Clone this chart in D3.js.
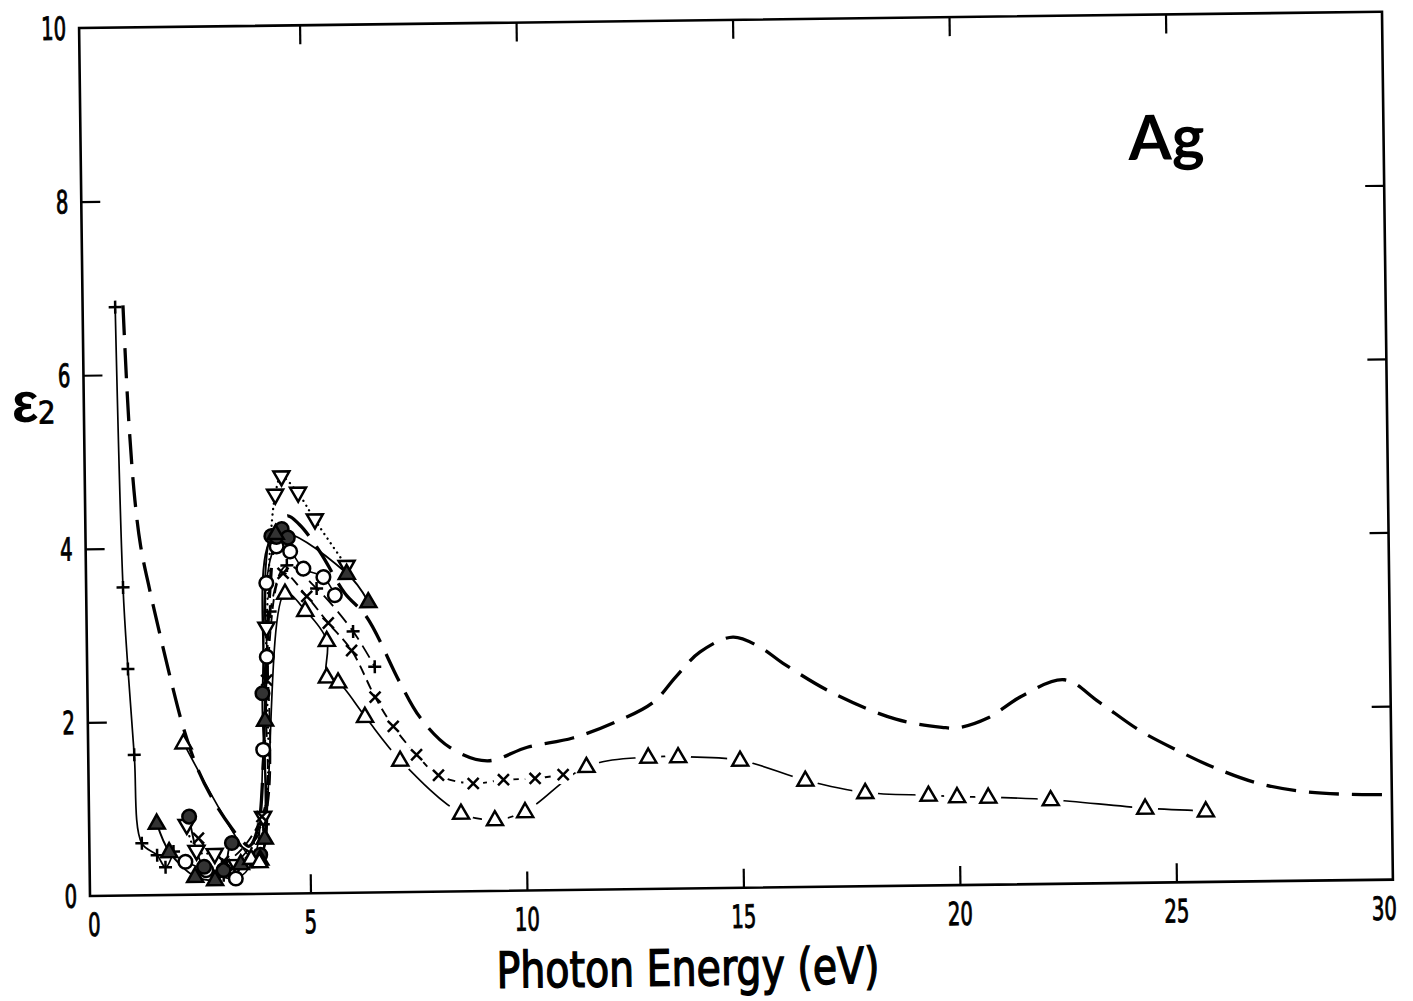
<!DOCTYPE html>
<html>
<head>
<meta charset="utf-8">
<script src="https://cdn.jsdelivr.net/npm/d3@7"></script>
<style>
  html, body { margin: 0; padding: 0; background: #fff; }
  svg { display: block; background: #fff; }
</style>
</head>
<body>
<svg id="chart" width="1413" height="1001"></svg>
<script>
// ---------------- data ----------------
const xTickValues = [0, 5, 10, 15, 20, 25, 30];
const xTickLabels = ["0", "5", "10", "15", "20", "25", "30"];
const yTickValues = [0, 2, 4, 6, 8, 10];
const yTickLabels = ["0", "2", "4", "6", "8", "10"];
const innerXTicks = [5, 10, 15, 20, 25];
const innerYTicks = [2, 4, 6, 8];

// long-dashed reference curve (no markers)
const dashCurve = [
  [0.84,6.8],[0.94,5.48],[1.06,4.55],[1.18,4.02],[1.37,3.53],[1.6,3.0],[1.85,2.45],
  [2.11,1.93],[2.43,1.45],[2.8,1.07],[3.2,0.76],[3.44,0.61],[3.6,0.55],[3.8,0.75],
  [3.95,1.5],[4.05,2.6],[4.15,3.5],[4.3,4.1],[4.57,4.35],[4.85,4.25],[5.32,3.93],
  [5.88,3.45],[6.37,3.18],[7.13,2.41],[7.58,2.01],[8.26,1.66],[9.12,1.50],[10.05,1.65],
  [11.1,1.75],[12.1,1.93],[12.97,2.15],[13.5,2.44],[14.06,2.72],[14.83,2.89],[15.45,2.77],
  [15.98,2.58],[17.12,2.23],[18.57,1.92],[19.63,1.82],[19.98,1.81],[20.69,1.92],
  [21.49,2.17],[22.47,2.35],[23.26,2.09],[24.18,1.76],[25.06,1.52],[25.89,1.32],
  [26.91,1.13],[27.92,1.03],[28.94,0.99],[30,0.98]
];
// "+" markers, low-energy Drude part (solid line)
const plusLow = [[0.66,6.78],[0.76,3.55],[0.85,2.61],[0.97,1.62],[1.12,0.6],[1.47,0.46],[1.66,0.32],[1.85,0.5]];
// "+" markers, interband part (dashed line)
const plusHigh = [[3.0,0.22],[3.93,0.8],[4.15,3.25],[4.55,3.78],[5.23,3.51],[6.06,3.01],[6.55,2.6]];
// open down-triangles (dotted line)
const nablaPts = [[2.16,0.8],[2.38,0.5],[2.8,0.46],[3.3,0.33],[3.93,0.88],[4.06,3.06],[4.3,4.59],[4.45,4.8],[4.83,4.61],[5.21,4.3],[5.93,3.76]];
// filled circles (solid line)
const dotPts = [[2.22,0.9],[2.55,0.32],[3.0,0.28],[3.2,0.59],[3.85,0.45],[3.95,2.31],[4.2,4.12],[4.32,4.11],[4.44,4.2],[4.58,4.1]];
// filled up-triangles (solid line)
const filledTriPts = [[1.47,0.83],[1.75,0.5],[2.34,0.21],[2.8,0.17],[3.4,0.35],[3.85,0.4],[3.96,0.64],[4.0,2.0],[4.3,4.15],[5.93,3.68],[6.42,3.35]];
// open circles (solid line)
const circlePts = [[2.12,0.38],[2.6,0.28],[3.28,0.18],[3.7,0.4],[3.95,1.66],[4.06,2.73],[4.07,3.58],[4.32,4.0],[4.63,3.94],[4.93,3.74],[5.39,3.64],[5.65,3.43]];
// crosses (dashed line)
const crossPts = [[2.43,0.65],[3.0,0.38],[3.9,0.89],[4.05,2.46],[4.46,3.69],[5.0,3.42],[5.49,3.11],[6.02,2.79],[6.55,2.25],[6.96,1.91],[7.49,1.58],[7.99,1.34],[8.79,1.24],[9.49,1.28],[10.22,1.29],[10.87,1.33]];
// open up-triangles (solid line)
const trianglePts = [[2.11,1.75],[3.64,0.41],[3.83,0.37],[4.5,3.46],[4.96,3.26],[5.45,2.91],[5.44,2.49],[5.70,2.43],[6.31,2.03],[7.11,1.52],[8.5,0.9],[9.28,0.82],[9.98,0.91],[11.41,1.42],[12.84,1.52],[13.53,1.52],[14.96,1.47],[16.46,1.23],[17.84,1.08],[19.3,1.04],[19.96,1.02],[20.68,1.01],[22.12,0.97],[24.3,0.86],[25.7,0.82]];

const xTitle = "Photon Energy (eV)";
const yTitleMain = "ε";
const yTitleSub = "2";
const panelLabel = "Ag";

// ---------------- layout ----------------
const W = 1303, H = 868;
const svg = d3.select("#chart");
svg.append("rect").attr("width", 1413).attr("height", 1001).attr("fill", "#fff");
// the scanned figure is slightly tilted
const g = svg.append("g")
  .attr("transform", `translate(90,896) rotate(-0.72) translate(0,${-H})`);

const x = d3.scaleLinear().domain([0, 30]).range([4, W]);
const y = d3.scaleLinear().domain([0, 10]).range([H, 0]);

const numFont = "'Liberation Sans Narrow', 'DejaVu Sans Condensed', 'Liberation Sans', sans-serif";

// frame
g.append("rect").attr("x", 0).attr("y", 0).attr("width", W).attr("height", H)
  .attr("fill", "none").attr("stroke", "#000").attr("stroke-width", 2.6);

function styleAxis(sel) {
  sel.select(".domain").remove();
  sel.selectAll("line").attr("stroke", "#000").attr("stroke-width", 2.2);
  sel.selectAll("text").remove();
}
g.append("g").attr("transform", `translate(0,${H})`)
  .call(d3.axisBottom(x).tickValues(innerXTicks).tickSize(-19)).call(styleAxis);
g.append("g")
  .call(d3.axisTop(x).tickValues(innerXTicks).tickSize(-19)).call(styleAxis);
g.append("g")
  .call(d3.axisLeft(y).tickValues(innerYTicks).tickSize(-19)).call(styleAxis);
g.append("g").attr("transform", `translate(${W},0)`)
  .call(d3.axisRight(y).tickValues(innerYTicks).tickSize(-19)).call(styleAxis);

// tick labels
const labelStyle = sel => sel
  .attr("font-family", numFont).attr("font-size", 32)
  .attr("stroke", "#000").attr("stroke-width", 0.9)
  .attr("lengthAdjust", "spacingAndGlyphs");
g.append("g").selectAll("text").data(xTickValues).join("text")
  .attr("x", d => x(d) - (d === 30 ? 9 : 0)).attr("y", H + 40)
  .attr("text-anchor", "middle")
  .call(labelStyle)
  .attr("textLength", (d, i) => 12.5 * xTickLabels[i].length)
  .text((d, i) => xTickLabels[i]);
g.append("g").selectAll("text").data(yTickValues).join("text")
  .attr("x", -13).attr("y", d => y(d)).attr("dy", "0.36em")
  .attr("text-anchor", "end")
  .call(labelStyle)
  .attr("textLength", (d, i) => 12.5 * yTickLabels[i].length)
  .text((d, i) => yTickLabels[i]);

// titles
g.append("text").attr("x", 597).attr("y", H + 97)
  .attr("text-anchor", "middle")
  .attr("font-family", numFont).attr("font-size", 50)
  .attr("stroke", "#000").attr("stroke-width", 1.3)
  .attr("textLength", 383).attr("lengthAdjust", "spacingAndGlyphs")
  .text(xTitle);
g.append("text").attr("x", -72).attr("y", 393)
  .attr("font-family", "'Liberation Sans', sans-serif").attr("font-size", 56)
  .attr("font-weight", "bold")
  .text(yTitleMain);
g.append("text").attr("x", -46).attr("y", 395)
  .attr("font-family", numFont).attr("font-size", 31)
  .attr("stroke", "#000").attr("stroke-width", 0.8)
  .text(yTitleSub);
g.append("text").attr("x", 1048).attr("y", 145)
  .attr("font-family", "Lato, 'Liberation Sans', sans-serif").attr("font-size", 62)
  .attr("font-weight", "bold")
  .text(panelLabel);

// ---------------- lines ----------------
const line = d3.line().x(d => x(d[0])).y(d => y(d[1])).curve(d3.curveCatmullRom.alpha(0.5));
const lines = g.append("g").attr("fill", "none").attr("stroke", "#000")
  .attr("stroke-linejoin", "round");

lines.append("path").datum(dashCurve).attr("d", line)
  .attr("stroke-width", 3.3).attr("stroke-dasharray", "30,13");
lines.append("path").datum(plusLow).attr("d", line).attr("stroke-width", 1.7);
lines.append("path").datum(plusHigh).attr("d", line).attr("stroke-width", 1.8)
  .attr("stroke-dasharray", "14,7");
lines.append("path").datum(nablaPts).attr("d", line).attr("stroke-width", 2.3)
  .attr("stroke-linecap", "round").attr("stroke-dasharray", "0.1,5.5");
lines.append("path").datum(dotPts).attr("d", line).attr("stroke-width", 1.9);
lines.append("path").datum(filledTriPts).attr("d", line).attr("stroke-width", 1.9);
lines.append("path").datum(circlePts).attr("d", line).attr("stroke-width", 1.6);
lines.append("path").datum(crossPts).attr("d", line).attr("stroke-width", 1.9)
  .attr("stroke-dasharray", "10,6");
lines.append("path").datum(trianglePts).attr("d", line).attr("stroke-width", 1.7);

// white gaps around isolated markers (as in the drawn original)
const halos = g.append("g").attr("fill", "#fff");
halos.selectAll("circle.t").data(trianglePts.filter(d => d[0] >= 6.9)).join("circle")
  .attr("cx", d => x(d[0])).attr("cy", d => y(d[1]) - 1).attr("r", 13);
halos.selectAll("circle.c").data(crossPts.filter(d => d[0] >= 6.9)).join("circle")
  .attr("cx", d => x(d[0])).attr("cy", d => y(d[1])).attr("r", 10);

// ---------------- markers ----------------
const shapes = {
  plus: "M-6.5,0H6.5M0,-6.5V6.5",
  cross: "M-5.5,-5.5L5.5,5.5M5.5,-5.5L-5.5,5.5",
  tri: "M0,-8.5L8,5.5L-8,5.5Z",
  nabla: "M0,8.5L8,-5.5L-8,-5.5Z"
};
const marks = g.append("g").attr("stroke", "#000").attr("stroke-width", 2.5)
  .attr("stroke-linejoin", "miter");

function drawPath(data, shape, fill) {
  marks.append("g").selectAll("path").data(data).join("path")
    .attr("transform", d => `translate(${x(d[0])},${y(d[1])})`)
    .attr("d", shapes[shape]).attr("fill", fill);
}
function drawCircle(data, fill) {
  marks.append("g").selectAll("circle").data(data).join("circle")
    .attr("cx", d => x(d[0])).attr("cy", d => y(d[1])).attr("r", 6.8)
    .attr("fill", fill);
}
drawPath(plusLow, "plus", "none");
drawPath(plusHigh, "plus", "none");
drawPath(nablaPts, "nabla", "#fff");
drawCircle(circlePts, "#fff");
drawCircle(dotPts, "#333");
drawPath(filledTriPts, "tri", "#333");
drawPath(crossPts, "cross", "none");
drawPath(trianglePts, "tri", "#fff");
</script>
</body>
</html>
